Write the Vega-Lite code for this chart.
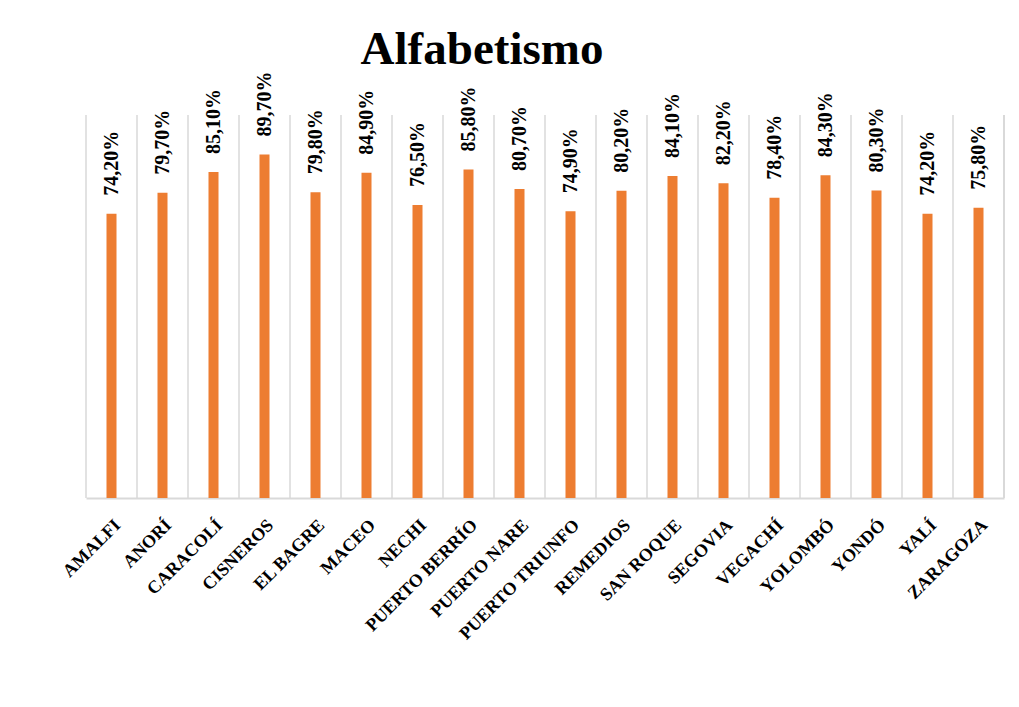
{
  "$schema": "https://vega.github.io/schema/vega-lite/v6.json",
  "width": 918,
  "height": 383,
  "autosize": {"type": "none"},
  "padding": {"left": 86, "top": 115, "right": 15, "bottom": 209},
  "background": "white",
  "config": {
    "view": {"stroke": null},
    "locale": {"number": {"decimal": ",", "thousands": ".", "grouping": [3], "currency": ["$", ""]}}
  },
  "title": {
    "text": "Alfabetismo",
    "font": "Liberation Serif",
    "fontSize": 47,
    "fontWeight": "bold",
    "color": "black",
    "anchor": "middle",
    "frame": "group",
    "baseline": "alphabetic",
    "dx": -63,
    "dy": 50,
    "offset": 10
  },
  "data": {
    "values": [
      {"municipio": "AMALFI", "valor": 0.742},
      {"municipio": "ANORÍ", "valor": 0.797},
      {"municipio": "CARACOLÍ", "valor": 0.851},
      {"municipio": "CISNEROS", "valor": 0.897},
      {"municipio": "EL BAGRE", "valor": 0.798},
      {"municipio": "MACEO", "valor": 0.849},
      {"municipio": "NECHI", "valor": 0.765},
      {"municipio": "PUERTO BERRÍO", "valor": 0.858},
      {"municipio": "PUERTO NARE", "valor": 0.807},
      {"municipio": "PUERTO TRIUNFO", "valor": 0.749},
      {"municipio": "REMEDIOS", "valor": 0.802},
      {"municipio": "SAN ROQUE", "valor": 0.841},
      {"municipio": "SEGOVIA", "valor": 0.822},
      {"municipio": "VEGACHÍ", "valor": 0.784},
      {"municipio": "YOLOMBÓ", "valor": 0.843},
      {"municipio": "YONDÓ", "valor": 0.803},
      {"municipio": "YALÍ", "valor": 0.742},
      {"municipio": "ZARAGOZA", "valor": 0.758}
    ]
  },
  "encoding": {
    "x": {
      "field": "municipio",
      "type": "nominal",
      "sort": null,
      "scale": {"paddingInner": 0, "paddingOuter": 0},
      "axis": {
        "title": null,
        "labelAngle": -45,
        "labelFont": "Liberation Serif",
        "labelFontWeight": "bold",
        "labelFontSize": 18,
        "labelColor": "black",
        "ticks": false,
        "labelPadding": 18,
        "domainColor": "#d9d9d9",
        "domainWidth": 2,
        "grid": false
      }
    },
    "y": {
      "field": "valor",
      "type": "quantitative",
      "scale": {"domain": [0, 1]},
      "axis": null
    }
  },
  "layer": [
    {
      "mark": {"type": "rule", "color": "#d9d9d9", "strokeWidth": 1.5},
      "encoding": {
        "x": {"field": "municipio", "type": "nominal", "sort": null, "bandPosition": 0},
        "y": {"datum": 0},
        "y2": {"datum": 1}
      }
    },
    {
      "mark": {"type": "rule", "color": "#d9d9d9", "strokeWidth": 1.5},
      "encoding": {
        "x": {"datum": "ZARAGOZA", "bandPosition": 1},
        "y": {"datum": 0},
        "y2": {"datum": 1}
      }
    },
    {
      "mark": {"type": "bar", "color": "#ED7D31", "size": 10}
    },
    {
      "mark": {
        "type": "text",
        "angle": -90,
        "align": "left",
        "baseline": "middle",
        "dx": 18,
        "font": "Liberation Serif",
        "fontWeight": "bold",
        "fontSize": 20,
        "color": "black"
      },
      "encoding": {
        "text": {"field": "valor", "type": "quantitative", "format": ".2%"}
      }
    }
  ]
}
